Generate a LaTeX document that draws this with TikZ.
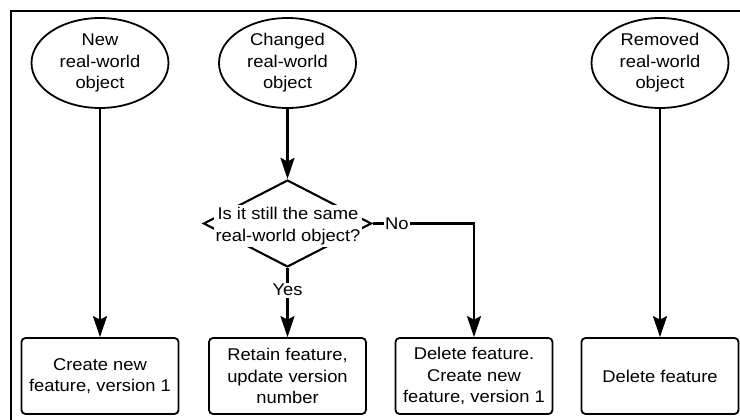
\documentclass[tikz,border=0pt]{standalone}
\usepackage{fontspec}
\setmainfont{Liberation Sans}[FakeStretch=1.08]
\usetikzlibrary{shapes.geometric,arrows.meta}
\begin{document}
\begin{tikzpicture}[x=1pt,y=-1pt,
  txt/.style={font=\fontsize{17}{21.5}\selectfont, align=center},
  obj/.style={ellipse, draw, line width=1.8pt, minimum width=137pt, minimum height=90pt, inner sep=0pt, txt},
  act/.style={draw, rounded corners=4pt, line width=1.8pt, minimum width=157pt, minimum height=76pt, inner sep=0pt, txt},
  arr/.style={line width=2.3pt, -{Stealth[length=21pt,width=14pt,inset=3.5pt]}},
  lbl/.style={fill=white, inner sep=1.5pt, txt},
  frame/.style={line width=2.6pt}
]
\useasboundingbox (0,0) rectangle (740,420);
\coordinate (fr) at (740,11);
\coordinate (fc) at (11,11);
\coordinate (fb) at (11,420);
\draw[frame] (fr) -- (fc) -- (fb);

\node[obj] (e1) at (100,63) {New\\real-world\\object};
\node[obj] (e2) at (287.5,63) {Changed\\real-world\\object};
\node[obj] (e3) at (660,63) {Removed\\real-world\\object};

\node[act] (b1) at (100,376) {Create new\\feature, version 1};
\node[act] (b2) at (287.5,376) {Retain feature,\\update version\\number};
\node[act] (b3) at (474,376) {Delete feature.\\Create new\\feature, version 1};
\node[act] (b4) at (660,376) {Delete feature};

\node[diamond, draw, line width=2.1pt, minimum width=168pt, minimum height=87pt, inner sep=0pt] (d) at (287.5,223.5) {};
\node[txt, fill=white, inner sep=2pt] (q) at (288,226) {Is it still the same\\real-world object?};

\draw[arr] (e1) -- (b1);
\draw[arr] (e2) -- (d.north);
\draw[arr] (d.south) -- node[lbl,pos=0.32]{Yes} (b2);
\draw[arr] (d.east) -| node[lbl,pos=0.12]{No} (b3.north);
\draw[arr] (e3) -- (b4);
\end{tikzpicture}
\end{document}
